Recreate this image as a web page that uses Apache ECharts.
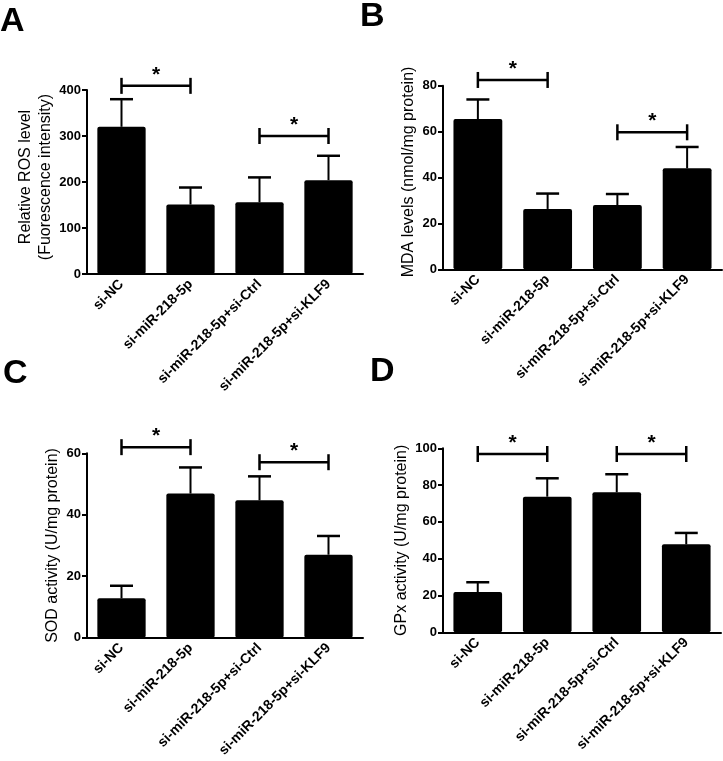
<!DOCTYPE html>
<html>
<head>
<meta charset="utf-8">
<script src="https://cdn.jsdelivr.net/npm/echarts@6/dist/echarts.min.js"></script>
<style>html,body{margin:0;padding:0;background:#fff;}#c{width:723px;height:761px;}</style>
</head>
<body>
<div id="c"></div>
<script>
const categories = ['si-NC', 'si-miR-218-5p', 'si-miR-218-5p+si-Ctrl', 'si-miR-218-5p+si-KLF9'];

const rosMean = [320, 151, 156, 204];
const rosSD = [60, 37, 54, 53];
const rosSig = [[0, 1, 409], [2, 3, 300]];

const mdaMean = [65.5, 26.3, 28, 44];
const mdaSD = [8.5, 6.7, 4.8, 9.3];
const mdaSig = [[0, 1, 82.5], [2, 3, 59.7]];

const sodMean = [12.8, 46.9, 44.7, 27];
const sodSD = [4.1, 8.5, 7.8, 6.1];
const sodSig = [[0, 1, 62], [2, 3, 57.1]];

const gpxMean = [21.9, 73.7, 76.1, 47.8];
const gpxSD = [5.3, 10, 9.8, 6.2];
const gpxSig = [[0, 1, 96.9], [2, 3, 96.9]];

const yNames = ['Relative ROS level\n(Fuorescence intensity)', 'MDA levels (nmol/mg protein)', 'SOD activity (U/mg protein)', 'GPx activity (U/mg protein)'];
const yMax = [400, 80, 60, 100];
const yInterval = [100, 20, 20, 20];
const panelLetters = ['A', 'B', 'C', 'D'];

const FONT = '"Liberation Sans", Arial, Helvetica, sans-serif';

const panels = [
  {mean: rosMean, sd: rosSD, sig: rosSig},
  {mean: mdaMean, sd: mdaSD, sig: mdaSig},
  {mean: sodMean, sd: sodSD, sig: sodSig},
  {mean: gpxMean, sd: gpxSD, sig: gpxSig}
];

const grids = [
  {left: 87, top: 90, width: 276, height: 184},
  {left: 443, top: 85.7, width: 279, height: 183.6},
  {left: 87, top: 453.3, width: 276, height: 184.4},
  {left: 443, top: 448.3, width: 278, height: 184}
];
const nameGaps = [30, 23, 24, 24];
const namePads = [[0, 0, 0, 10], [0, 0, 0, 11], [0, 0, 0, 0], [0, 0, 0, 0]];
const letterPos = [[0, 5], [360, 0], [3, 357], [370, 355]];

const xAxes = [], yAxes = [], series = [];
for (let i = 0; i < 4; i++) {
  xAxes.push({
    type: 'category', gridIndex: i, data: categories,
    axisLine: {lineStyle: {color: '#000', width: 2}},
    axisTick: {alignWithLabel: true, length: 5, lineStyle: {color: '#000', width: 2}},
    axisLabel: {rotate: 45, interval: 0, margin: 8, color: '#000', fontWeight: 'bold', fontSize: 14, fontFamily: FONT}
  });
  yAxes.push({
    type: 'value', gridIndex: i, min: 0, max: yMax[i], interval: yInterval[i],
    name: yNames[i], nameLocation: 'middle', nameGap: nameGaps[i],
    nameTextStyle: {color: '#000', fontSize: 16, fontFamily: FONT, lineHeight: 20, padding: namePads[i]},
    axisLine: {show: true, lineStyle: {color: '#000', width: 2}},
    axisTick: {show: true, length: 5, lineStyle: {color: '#000', width: 2}},
    axisLabel: {color: '#000', fontWeight: 'bold', fontSize: 13, fontFamily: FONT, margin: 6},
    splitLine: {show: false}
  });
  const p = panels[i];
  series.push({
    type: 'bar', xAxisIndex: i, yAxisIndex: i, data: p.mean, barWidth: '70%',
    itemStyle: {color: '#000', borderRadius: 2}, silent: true
  });
  series.push({
    type: 'custom', xAxisIndex: i, yAxisIndex: i, z: 3, silent: true,
    data: p.mean.map((m, k) => [k, m, p.sd[k]]),
    renderItem: function (params, api) {
      const x = api.value(0), m = api.value(1), s = api.value(2);
      const p0 = api.coord([x, m]);
      const p1 = api.coord([x, m + s]);
      return {type: 'group', children: [
        {type: 'line', shape: {x1: p0[0], y1: p0[1], x2: p1[0], y2: p1[1]}, style: {stroke: '#000', lineWidth: 2}},
        {type: 'line', shape: {x1: p1[0] - 11.5, y1: p1[1], x2: p1[0] + 11.5, y2: p1[1]}, style: {stroke: '#000', lineWidth: 2.5}}
      ]};
    }
  });
  series.push({
    type: 'custom', xAxisIndex: i, yAxisIndex: i, z: 3, silent: true, clip: false,
    data: p.sig,
    renderItem: function (params, api) {
      const a = api.coord([api.value(0), api.value(2)]);
      const b = api.coord([api.value(1), api.value(2)]);
      const y = a[1];
      return {type: 'group', children: [
        {type: 'line', shape: {x1: a[0], y1: y, x2: b[0], y2: y}, style: {stroke: '#000', lineWidth: 2.5}},
        {type: 'line', shape: {x1: a[0], y1: y - 8, x2: a[0], y2: y + 8}, style: {stroke: '#000', lineWidth: 2.5}},
        {type: 'line', shape: {x1: b[0], y1: y - 8, x2: b[0], y2: y + 8}, style: {stroke: '#000', lineWidth: 2.5}},
        {type: 'text', style: {text: '*', x: (a[0] + b[0]) / 2, y: y - 11, align: 'center', verticalAlign: 'middle', font: 'bold 21px ' + FONT, fill: '#000'}}
      ]};
    }
  });
}

const graphics = panelLetters.map((t, i) => ({
  type: 'text', left: letterPos[i][0], top: letterPos[i][1],
  style: {text: t, font: 'bold 34px ' + FONT, fill: '#000'}
}));

const chart = echarts.init(document.getElementById('c'), null, {renderer: 'canvas'});
chart.setOption({
  animation: false,
  backgroundColor: '#fff',
  grid: grids,
  xAxis: xAxes,
  yAxis: yAxes,
  series: series,
  graphic: graphics
});
</script>
</body>
</html>
